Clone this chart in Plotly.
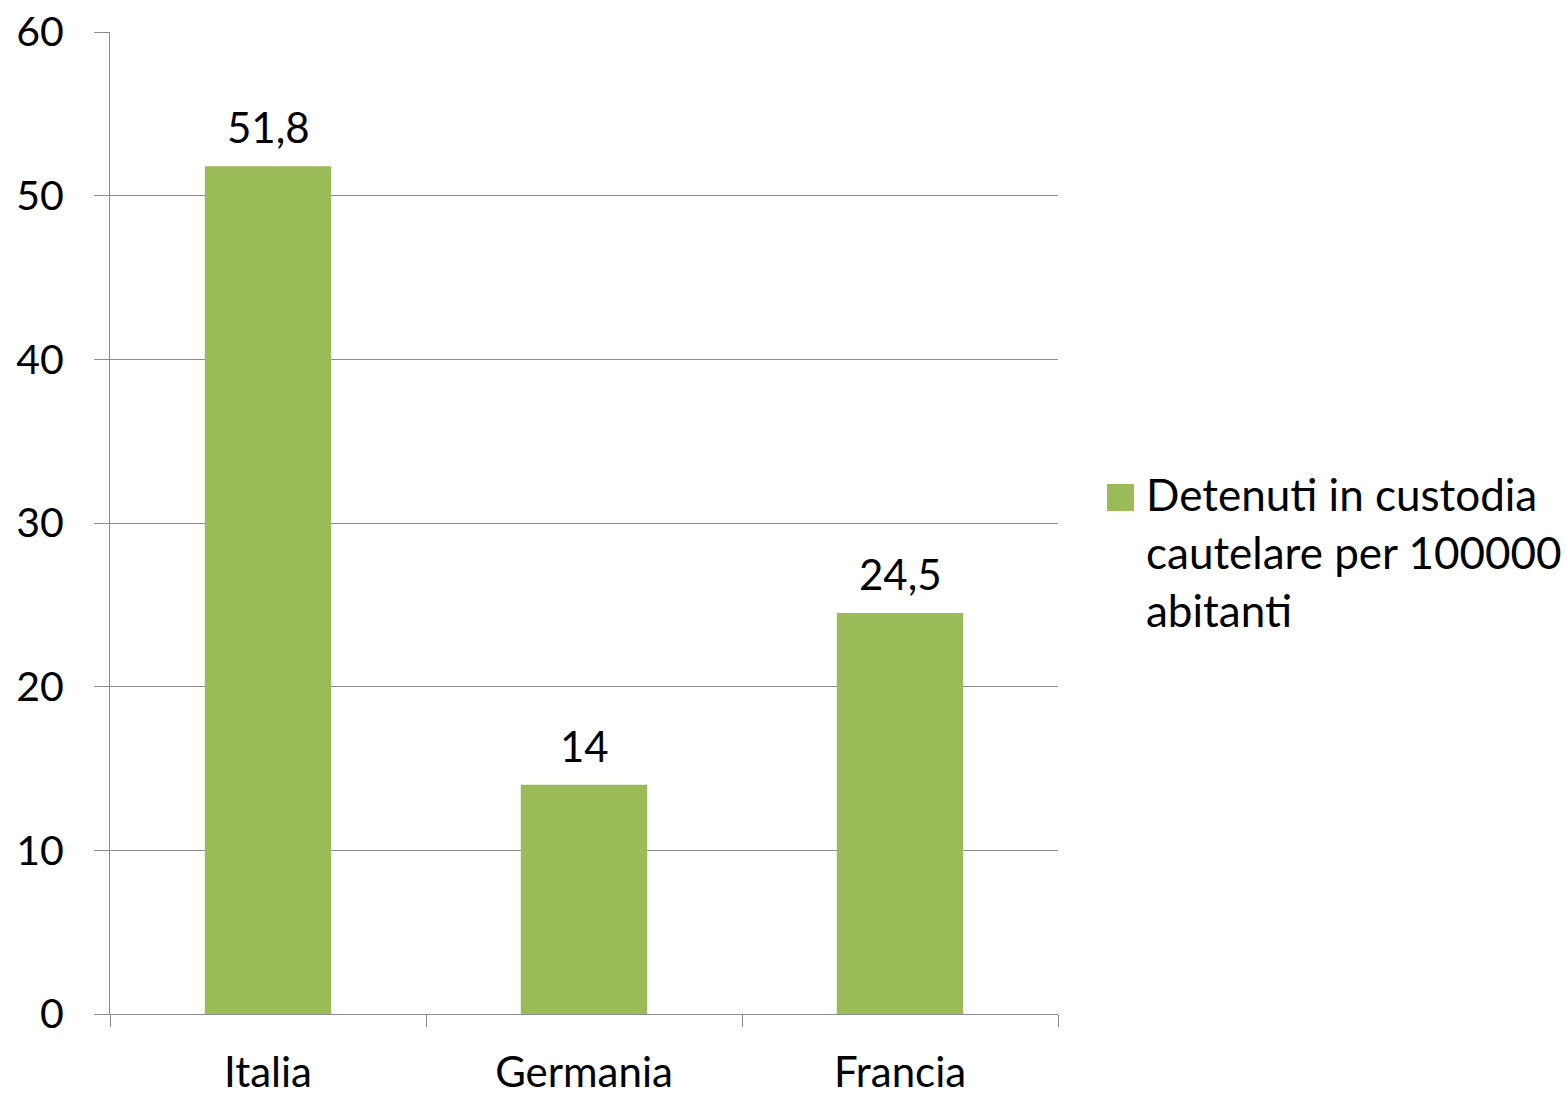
import plotly.graph_objects as go

# Pre-trial detainees per 100,000 inhabitants
countries = ["Italia", "Germania", "Francia"]
detainees = [51.8, 14, 24.5]
series_name = "Detenuti in custodia cautelare per 100000 abitanti"
legend_lines = ["Detenuti in custodia", "cautelare per 100000", "abitanti"]
y_ticks = [0, 10, 20, 30, 40, 50, 60]

GREEN = "#9BBB59"
GRID = "#8C8C8C"
FONT = "Lato, 'Open Sans', sans-serif"

labels = [f"{v:g}".replace(".", ",") for v in detainees]

fig = go.Figure(
    go.Bar(
        x=countries,
        y=detainees,
        name=series_name,
        marker=dict(color=GREEN, line=dict(width=0)),
        showlegend=False,
    )
)

# Value labels above each bar
for c, v, t in zip(countries, detainees, labels):
    fig.add_annotation(
        x=c, y=v, xref="x", yref="y",
        text=t, showarrow=False,
        xanchor="center", yanchor="bottom", yshift=12,
        font=dict(size=42, family=FONT, color="#000000"),
    )

fig.update_layout(
    width=1566,
    height=1095,
    margin=dict(l=110, r=508, t=32, b=81),
    paper_bgcolor="white",
    plot_bgcolor="white",
    bargap=0.6,
    font=dict(family=FONT, size=42, color="#000000"),
)

fig.update_xaxes(
    type="category",
    tickson="boundaries",
    ticks="outside",
    ticklen=12,
    tickcolor=GRID,
    tickwidth=1,
    showline=True,
    linecolor=GRID,
    linewidth=1,
    showgrid=False,
    automargin=False,
    tickfont=dict(size=42, family=FONT),
    ticklabelstandoff=22,
)

fig.update_yaxes(
    range=[0, 60],
    tickvals=y_ticks,
    ticks="outside",
    ticklen=15,
    tickcolor=GRID,
    tickwidth=1,
    showline=True,
    linecolor=GRID,
    linewidth=1,
    showgrid=True,
    gridcolor=GRID,
    gridwidth=1,
    zeroline=False,
    automargin=False,
    tickfont=dict(size=41, family=FONT),
    ticklabelstandoff=22,
)

# Legend: colour swatch plus the wrapped series name
fig.add_shape(
    type="rect",
    xref="paper", yref="paper",
    x0=1.0517, x1=1.0802, y0=0.5122, y1=0.5397,
    fillcolor=GREEN, line=dict(width=0),
)
for i, line in enumerate(legend_lines):
    fig.add_annotation(
        xref="paper", yref="paper",
        x=1.0905, y=0.530 - i * 0.0591,
        xanchor="left", yanchor="middle",
        text=line, showarrow=False,
        font=dict(size=44, family=FONT, color="#000000"),
    )

fig.write_html("out.html")
